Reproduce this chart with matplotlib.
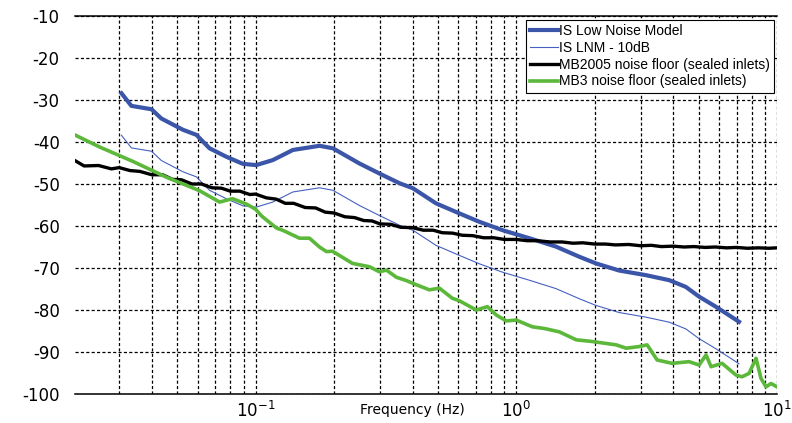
import matplotlib
matplotlib.use("Agg")
import matplotlib.pyplot as plt
from matplotlib.ticker import FixedLocator, NullFormatter, FixedFormatter

# IS Low Noise Model (thick blue)
lnm_freq = [0.0306, 0.0334, 0.0399, 0.0435, 0.0527, 0.0593, 0.0666, 0.0772, 0.0894,
            0.1006, 0.1165, 0.139, 0.176, 0.198, 0.250, 0.2986, 0.356, 0.401, 0.492,
            0.605, 0.722, 0.886, 1.121, 1.419, 1.742, 2.02, 2.48, 3.14, 3.86, 4.47,
            5.02, 5.82, 7.15]
lnm_db = [-28.4, -31.4, -32.2, -34.4, -37.1, -38.3, -41.5, -43.5, -45.2,
          -45.5, -44.3, -41.9, -40.9, -41.5, -45.1, -47.5, -49.8, -51.0, -54.6,
          -57.0, -59.0, -61.0, -62.9, -64.9, -67.3, -68.9, -70.6, -71.7, -72.9, -74.5,
          -76.8, -79.2, -82.8]
# IS LNM - 10dB (thin blue)
lnm10_db = [v - 10 for v in lnm_db]

# MB2005 noise floor (black)
mb2005_freq = [0.02, 0.022, 0.025, 0.028, 0.03, 0.033, 0.036, 0.04, 0.044, 0.048,
               0.052, 0.057, 0.062, 0.068, 0.074, 0.08, 0.087, 0.095, 0.1, 0.11,
               0.12, 0.13, 0.14, 0.155, 0.17, 0.185, 0.2, 0.22, 0.24, 0.26,
               0.28, 0.3, 0.33, 0.36, 0.4, 0.44, 0.48, 0.52, 0.57, 0.62,
               0.68, 0.75, 0.82, 0.9, 1.0, 1.1, 1.2, 1.35, 1.5, 1.65,
               1.8, 2.0, 2.2, 2.4, 2.7, 3.0, 3.3, 3.6, 4.0, 4.4,
               4.8, 5.3, 5.8, 6.4, 7.0, 7.7, 8.5, 9.3, 10.0]
mb2005_db = [-44.2, -45.7, -45.6, -46.4, -46.1, -46.8, -47.0, -47.8, -47.8, -48.9,
             -49.0, -50.0, -50.0, -50.9, -51.0, -51.7, -51.7, -52.5, -52.4, -53.3,
             -53.6, -54.6, -54.6, -55.6, -55.7, -56.7, -56.9, -57.8, -58.0, -58.7,
             -58.8, -59.5, -59.6, -60.3, -60.4, -61.0, -61.0, -61.6, -61.7, -62.2,
             -62.3, -62.8, -62.8, -63.2, -63.2, -63.5, -63.5, -63.8, -63.8, -64.1,
             -64.0, -64.3, -64.3, -64.5, -64.4, -64.7, -64.6, -64.9, -64.8, -65.0,
             -64.9, -65.1, -65.0, -65.2, -65.1, -65.3, -65.2, -65.3, -65.2]

# MB3 noise floor (green)
mb3_freq = [0.02025, 0.02525, 0.03379, 0.0456, 0.061, 0.07278, 0.08163, 0.09236, 0.1,
            0.1054, 0.1204, 0.1269, 0.1474, 0.161, 0.1759, 0.1871, 0.1972, 0.2353,
            0.2734, 0.2986, 0.3176, 0.3469, 0.3789, 0.414, 0.4642, 0.507, 0.5685,
            0.6046, 0.7026, 0.7745, 0.8383, 0.9157, 1.0, 1.152, 1.281, 1.462, 1.698,
            1.955, 2.416, 2.64, 2.96, 3.177, 3.469, 3.96, 4.601, 5.025, 5.345, 5.586,
            6.157, 6.966, 7.343, 7.811, 8.31, 8.683, 9.076, 9.485, 10.0]
mb3_db = [-38.3, -41.2, -44.6, -48.4, -51.6, -54.3, -53.5, -54.8, -56.0,
          -57.6, -60.5, -61.0, -62.9, -62.9, -65.0, -66.1, -66.0, -68.9,
          -69.7, -70.9, -70.5, -72.2, -73.0, -74.0, -75.2, -74.8, -77.2,
          -77.8, -80.0, -79.2, -81.2, -82.6, -82.4, -84.0, -84.4, -85.2, -87.1,
          -87.5, -88.3, -89.1, -88.7, -88.3, -91.9, -92.7, -92.3, -93.1, -90.7, -93.5,
          -92.7, -95.5, -95.9, -95.1, -91.5, -96.3, -98.3, -97.5, -98.3]

y_ticks = [-100, -90, -80, -70, -60, -50, -40, -30, -20, -10]
x_major = [0.1, 1.0, 10.0]
x_major_labels = [r"$10^{-1}$", r"$10^{0}$", r"$10^{1}$"]
x_minor = [0.03, 0.04, 0.05, 0.06, 0.07, 0.08, 0.09,
           0.2, 0.3, 0.4, 0.5, 0.6, 0.7, 0.8, 0.9,
           2, 3, 4, 5, 6, 7, 8, 9]

fig = plt.figure(figsize=(7.92, 4.23), dpi=100)
ax = fig.add_axes([75 / 792, 1 - 394 / 423, (777 - 75) / 792, (394 - 16) / 423])

ax.plot(lnm_freq, lnm_db, color="#3b55a8", lw=3.0, label="IS Low Noise Model", zorder=3)
ax.plot(lnm_freq, lnm10_db, color="#4560c0", lw=0.8, label="IS LNM - 10dB", zorder=3)
ax.plot(mb2005_freq, mb2005_db, color="black", lw=2.4, label="MB2005 noise floor (sealed inlets)", zorder=3)
ax.plot(mb3_freq, mb3_db, color="#5cb83a", lw=2.6, label="MB3 noise floor (sealed inlets)", zorder=3)

ax.set_xscale("log")
ax.set_xlim(0.0203, 10)
ax.set_ylim(-100, -10)

ax.xaxis.set_major_locator(FixedLocator(x_major))
ax.xaxis.set_major_formatter(FixedFormatter(x_major_labels))
ax.xaxis.set_minor_locator(FixedLocator(x_minor))
ax.xaxis.set_minor_formatter(NullFormatter())
ax.set_yticks(y_ticks)
ax.set_yticklabels([str(v) for v in y_ticks])

ax.tick_params(axis="both", which="both", length=0)
ax.tick_params(axis="y", labelsize=12, pad=11)
ax.tick_params(axis="x", labelsize=12, pad=5)

ax.grid(True, which="both", axis="both", color="black", lw=0.9,
        linestyle=(0, (2.5, 1.8)), zorder=1)
ax.set_axisbelow(True)

ax.spines["left"].set_visible(False)
ax.spines["right"].set_visible(False)
for s in ("top", "bottom"):
    ax.spines[s].set_linewidth(1.1)
    ax.spines[s].set_color("black")

fig.text(412 / 792, 1 - 410 / 423, "Frequency (Hz)", ha="center", va="center", fontsize=10)

leg = ax.legend(loc="upper right", bbox_to_anchor=(774 / 792, 1 - 20 / 423),
                bbox_transform=fig.transFigure, borderaxespad=0, fancybox=False,
                framealpha=1, edgecolor="black", prop={"family": "Liberation Sans", "size": 10},
                handlelength=2.0, handletextpad=0.1, labelspacing=0.2, borderpad=0.3)
leg.get_frame().set_linewidth(0.8)

fig.savefig("out.png", dpi=100)
